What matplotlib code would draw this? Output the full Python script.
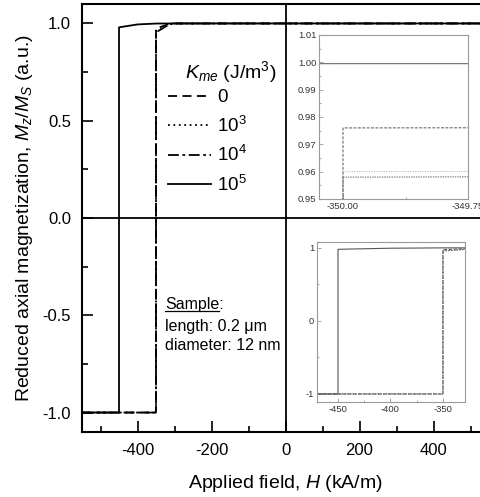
import numpy as np
import matplotlib
matplotlib.use("Agg")
import matplotlib.pyplot as plt
from matplotlib.ticker import MultipleLocator, FixedLocator, FormatStrFormatter
from matplotlib.lines import Line2D

plt.rcParams['font.family'] = ['Liberation Sans', 'DejaVu Sans']
plt.rcParams['mathtext.fontset'] = 'custom'
plt.rcParams['mathtext.rm'] = 'Liberation Sans'
plt.rcParams['mathtext.it'] = 'Liberation Sans:italic'
plt.rcParams['axes.unicode_minus'] = False

# descending branches of the hysteresis loop for each K_me
h_k5 = [-550, -450, -450, -400, -350, -300, 550]
m_k5 = [-1.0, -1.0, 0.98, 0.995, 0.9995, 1.0, 1.0]

h_k0 = [-550, -350, -350, -345, -320, -305, 550]
m_k0 = [-1.0, -1.0, 0.976, 0.977, 0.994, 1.0, 1.0]

h_k3 = [-550, -350, -350, -345, -320, -305, 550]
m_k3 = [-1.0, -1.0, 0.960, 0.962, 0.990, 1.0, 1.0]

h_k4 = [-550, -350, -350, -345, -320, -305, 550]
m_k4 = [-1.0, -1.0, 0.958, 0.960, 0.989, 1.0, 1.0]

legend_labels = ['0', '10$^3$', '10$^4$', '10$^5$']

W, H = 481, 497
fig = plt.figure(figsize=(W / 100, H / 100), dpi=100)

def fx(px):
    return px / W

def fy(py):
    return 1 - py / H

ax = fig.add_axes([fx(82), fy(432), fx(489) - fx(82), fy(4) - fy(432)])
ax.set_xlim(-550, 550)
ax.set_ylim(-1.1, 1.1)

styles = [
    (h_k0, m_k0, dict(linestyle=(0, (5, 3)))),
    (h_k3, m_k3, dict(linestyle=(0, (1, 2)))),
    (h_k4, m_k4, dict(linestyle=(0, (6, 2, 1.5, 2)))),
    (h_k5, m_k5, dict(linestyle='-')),
]
handles = []
for (hh, mm, st), lab in zip(styles, legend_labels):
    ln, = ax.plot(hh, mm, color='black', lw=1.3, label=lab, **st)
    handles.append(ln)

ax.axhline(0, color='black', lw=1.3)
ax.axvline(0, color='black', lw=1.3)

ax.xaxis.set_major_locator(MultipleLocator(200))
ax.xaxis.set_minor_locator(MultipleLocator(100))
ax.yaxis.set_major_locator(MultipleLocator(0.5))
ax.yaxis.set_minor_locator(MultipleLocator(0.25))
ax.yaxis.set_major_formatter(FormatStrFormatter('%.1f'))
ax.tick_params(which='both', direction='in', top=False, right=False,
               labelsize=12, width=1.2, pad=8)
ax.tick_params(which='major', length=8)
ax.tick_params(which='minor', length=4)
for sp in ax.spines.values():
    sp.set_linewidth(1.5)

ax.set_xlabel('Applied field, $H$ (kA/m)', fontsize=14, labelpad=11)
ax.set_ylabel('Reduced axial magnetization, $M_z/M_S$ (a.u.)', fontsize=14, labelpad=5)

# legend with a separate title
fig.text(fx(185), fy(72), '$K_{me}$ (J/m$^3$)', fontsize=14, va='center', ha='left')
ax.legend(handles=handles, loc='upper left', bbox_to_anchor=(fx(168), fy(89)),
          bbox_transform=fig.transFigure, frameon=False, fontsize=13.5,
          handlelength=2.3, handletextpad=0.3, labelspacing=0.5, borderpad=0,
          borderaxespad=0)

# sample description
t1 = fig.text(fx(165), fy(305), 'Sample', fontsize=11.5, va='center', ha='left')
fig.text(fx(165), fy(305), 'Sample:', fontsize=11.5, va='center', ha='left')
t1.set_alpha(0)
fig.text(fx(165), fy(326), 'length: 0.2 μm', fontsize=11.5, va='center', ha='left')
fig.text(fx(165), fy(346), 'diameter: 12 nm', fontsize=11.5, va='center', ha='left')
fig.canvas.draw()
bb = t1.get_window_extent().transformed(fig.transFigure.inverted())
fig.add_artist(Line2D([bb.x0, bb.x1], [bb.y0 + 0.003, bb.y0 + 0.003],
                      transform=fig.transFigure, color='black', lw=0.9))

inset_gray = '#999999'

def style_inset(a):
    for sp in a.spines.values():
        sp.set_color(inset_gray)
        sp.set_linewidth(0.8)
    a.tick_params(which='both', direction='in', labelsize=6.8, colors=inset_gray,
                  labelcolor='#333333', width=0.6, pad=2)
    a.tick_params(which='major', length=3)
    a.tick_params(which='minor', length=1.5)

inset_styles = [
    (h_k0, m_k0, dict(linestyle=(0, (3, 1.5)), color='#555555')),
    (h_k3, m_k3, dict(linestyle=(0, (1, 1.5)), color='#aaaaaa')),
    (h_k4, m_k4, dict(linestyle=(0, (1.5, 1)), color='#666666')),
    (h_k5, m_k5, dict(linestyle='-', color='#555555')),
]

# zoom on the switching field
ax1 = fig.add_axes([fx(319), fy(199), fx(468) - fx(319), fy(35) - fy(199)])
for hh, mm, st in inset_styles:
    ax1.plot(hh, mm, lw=0.7, **st)
ax1.set_xlim(-350.048, -349.75)
ax1.set_ylim(0.95, 1.01)
ax1.xaxis.set_major_locator(FixedLocator([-350.0, -349.75]))
ax1.xaxis.set_minor_locator(FixedLocator([-349.875]))
ax1.xaxis.set_major_formatter(FormatStrFormatter('%.2f'))
ax1.yaxis.set_major_locator(MultipleLocator(0.01))
ax1.yaxis.set_minor_locator(MultipleLocator(0.005))
ax1.yaxis.set_major_formatter(FormatStrFormatter('%.2f'))
style_inset(ax1)

# zoom on the loop jumps
ax2 = fig.add_axes([fx(317), fy(402), fx(465) - fx(317), fy(242) - fy(402)])
for hh, mm, st in inset_styles:
    ax2.plot(hh, mm, lw=0.8, **st)
ax2.set_xlim(-470, -329)
ax2.set_ylim(-1.11, 1.08)
ax2.xaxis.set_major_locator(MultipleLocator(50))
ax2.xaxis.set_minor_locator(MultipleLocator(25))
ax2.yaxis.set_major_locator(MultipleLocator(1))
ax2.yaxis.set_minor_locator(MultipleLocator(0.5))
style_inset(ax2)

fig.savefig('out.png', dpi=100)
